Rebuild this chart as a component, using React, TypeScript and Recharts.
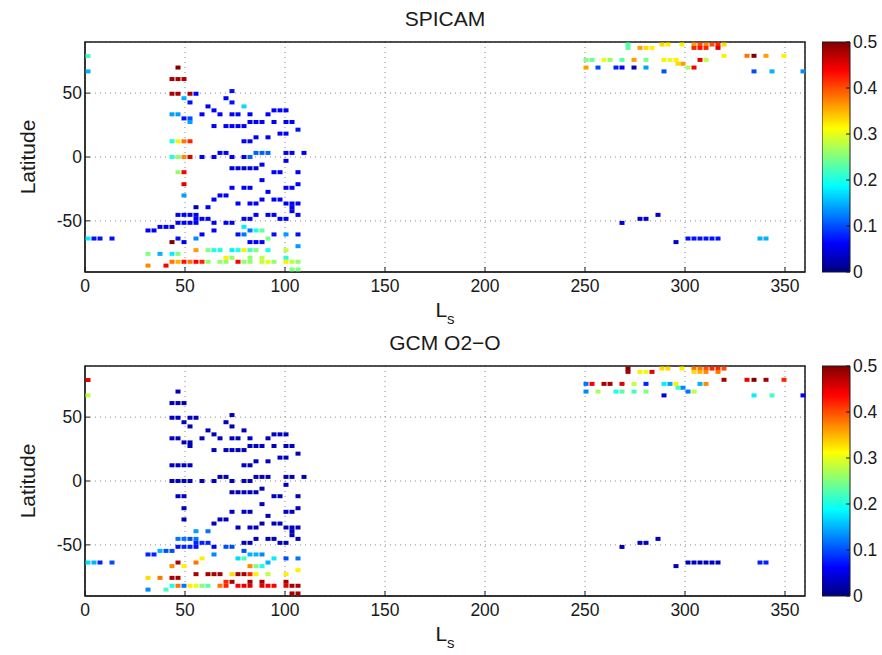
import React from "react";
import { ScatterChart, Scatter, XAxis, YAxis, CartesianGrid, ReferenceArea, BarChart, Bar } from "recharts";

// one entry per latitude row of observations; the same cells are shown in both panels
const rowLat = [
  79, 67, 70, 61, 51.6, 49.5, 46, 42.7, 39.6, 36.5, 33.4, 30.2, 27.4, 24.2, 21.4, 18.3, 15.4, 12.3, 3.2, 0,
  -3, -6, -8.8, -11.9, -18.1, -21.3, -24.1, -27.3, -30.1, -33.3, -36.4, -39.3, -42.4, -45.3, -48.4, -51.5,
  -54.7, -57.5, -60.6, -63.8, -66.6, -69.8, -72.9, -75.8, -78.9, -82, -85, -88,
  88, 85.4, 79.2, 76, 73, 70, 67, -45.3, -48.4, -51.6,
];

const rowLs = [
  [1.5], [1.5], [46.5], [43.5, 46.5, 49.5], [73.5], [43.5, 46.5, 52.5, 55.5], [49.5, 70.5], [52.5, 73.5],
  [61.5, 79.5], [64.5, 94.5, 97.5, 100.5], [43.5, 46.5, 58.5, 67.5, 73.5, 76.5, 82.5, 91.5], [49.5, 52.5],
  [52.5, 82.5, 85.5, 88.5, 94.5, 100.5, 103.5], [64.5, 70.5, 73.5, 76.5, 79.5], [106.5], [97.5, 100.5],
  [85.5, 91.5], [43.5, 46.5, 49.5, 52.5, 79.5, 82.5], [67.5, 70.5, 85.5, 88.5, 91.5, 100.5, 103.5, 109.5],
  [43.5, 46.5, 49.5, 52.5, 58.5, 64.5, 73.5, 79.5, 82.5],
  [100.5], [88.5], [73.5, 76.5, 79.5, 82.5, 85.5], [46.5, 49.5, 94.5, 97.5, 106.5], [88.5], [49.5, 106.5],
  [73.5, 79.5, 82.5, 100.5, 103.5], [91.5], [49.5, 67.5, 70.5], [64.5, 88.5, 94.5, 97.5],
  [76.5, 82.5, 85.5, 100.5, 103.5, 106.5], [55.5, 61.5, 103.5], [103.5],
  [46.5, 49.5, 52.5, 55.5, 85.5, 91.5, 94.5, 106.5], [55.5, 58.5, 61.5, 79.5, 82.5, 97.5, 100.5],
  [46.5, 49.5, 52.5, 55.5, 64.5, 70.5, 73.5],
  [37.5, 40.5, 43.5, 79.5], [31.5, 34.5, 64.5, 82.5, 85.5, 88.5], [58.5, 76.5, 79.5, 94.5, 100.5, 106.5],
  [1.5, 4.5, 7.5, 13.5, 46.5, 55.5, 91.5, 301.5, 304.5, 307.5, 310.5, 313.5, 316.5, 337.5, 340.5],
  [43.5, 49.5, 82.5, 85.5, 88.5, 295.5], [106.5],
  [55.5, 61.5, 64.5, 67.5, 73.5, 76.5, 79.5, 82.5, 85.5, 91.5, 100.5], [31.5, 37.5, 43.5, 46.5],
  [70.5, 73.5, 82.5, 88.5, 100.5],
  [43.5, 46.5, 49.5, 52.5, 55.5, 58.5, 61.5, 67.5, 70.5, 76.5, 79.5, 82.5, 88.5, 91.5, 94.5, 100.5, 103.5, 106.5],
  [31.5, 40.5], [103.5, 106.5],
  [271.5, 288.5, 291.5, 298.5, 304.5, 307.5, 310.5, 313.5, 316.5, 319.5],
  [271.5, 277.5, 280.5, 283.5, 304.5, 307.5, 310.5, 316.5],
  [319.5, 331, 334.5, 340.5, 349.5],
  [250.5, 253.5, 259.5, 262.5, 268.5, 274.5, 280.5, 289.5, 292.5, 295.5, 307.5, 310.5],
  [296.5, 299], [250.5, 256.5, 265.5, 268.5, 274.5, 280.5, 301.5, 304.5], [289.5, 334.5, 343.5, 359],
  [286.5], [277.5, 280.5], [268.5],
];

const spicamVals = [
  [0.22], [0.15], [0.5], [0.48, 0.48, 0.48], [0.07], [0.48, 0.48, 0.48, 0.06], [0.15, 0.06], [0.07, 0.07],
  [0.06, 0.17], [0.06, 0.06, 0.06, 0.06], [0.14, 0.14, 0.06, 0.06, 0.06, 0.06, 0.06, 0.06], [0.07, 0.1],
  [0.14, 0.06, 0.06, 0.06, 0.06, 0.06, 0.06], [0.06, 0.06, 0.06, 0.06, 0.06], [0.07], [0.06, 0.06],
  [0.06, 0.06], [0.2, 0.32, 0.38, 0.42, 0.06, 0.06], [0.06, 0.06, 0.11, 0.11, 0.11, 0.06, 0.06, 0.06],
  [0.2, 0.26, 0.37, 0.45, 0.06, 0.06, 0.06, 0.06, 0.11],
  [0.06], [0.06], [0.04, 0.04, 0.04, 0.04, 0.04], [0.26, 0.44, 0.06, 0.06, 0.06], [0.06], [0.45, 0.06],
  [0.06, 0.06, 0.06, 0.06, 0.06], [0.06], [0.14, 0.06, 0.06], [0.06, 0.06, 0.06, 0.06],
  [0.06, 0.06, 0.06, 0.06, 0.06, 0.06], [0.03, 0.06, 0.05], [0.05],
  [0.06, 0.06, 0.06, 0.06, 0.06, 0.06, 0.06, 0.06], [0.06, 0.06, 0.06, 0.06, 0.06, 0.06, 0.06],
  [0.06, 0.06, 0.06, 0.06, 0.06, 0.06, 0.06],
  [0.06, 0.06, 0.06, 0.18], [0.06, 0.06, 0.06, 0.12, 0.2, 0.24], [0.06, 0.07, 0.12, 0.07, 0.14, 0.07],
  [0.18, 0.07, 0.07, 0.07, 0.07, 0.13, 0.25, 0.07, 0.07, 0.07, 0.07, 0.07, 0.07, 0.15, 0.15],
  [0.5, 0.06, 0.06, 0.06, 0.06, 0.04], [0.14],
  [0.36, 0.25, 0.2, 0.2, 0.18, 0.2, 0.32, 0.22, 0.25, 0.2, 0.28], [0.25, 0.15, 0.18, 0.25],
  [0.32, 0.26, 0.26, 0.28, 0.2],
  [0.38, 0.35, 0.43, 0.38, 0.44, 0.42, 0.26, 0.26, 0.26, 0.44, 0.26, 0.26, 0.28, 0.3, 0.26, 0.32, 0.28, 0.26],
  [0.37, 0.44], [0.25, 0.25],
  [0.23, 0.33, 0.32, 0.32, 0.36, 0.4, 0.37, 0.4, 0.42, 0.33],
  [0.23, 0.36, 0.33, 0.32, 0.42, 0.43, 0.42, 0.45],
  [0.32, 0.38, 0.5, 0.36, 0.32],
  [0.25, 0.24, 0.3, 0.26, 0.23, 0.36, 0.25, 0.32, 0.3, 0.32, 0.45, 0.28],
  [0.33, 0.36], [0.36, 0.1, 0.08, 0.06, 0.03, 0.14, 0.27, 0.44], [0.1, 0.1, 0.15, 0.13],
  [0.04], [0.04, 0.04], [0.05],
];

const gcmVals = [
  [0.45], [0.28], [0.03], [0.03, 0.03, 0.03], [0.03], [0.03, 0.03, 0.03, 0.03], [0.03, 0.03], [0.03, 0.03],
  [0.03, 0.03], [0.03, 0.03, 0.03, 0.03], [0.03, 0.03, 0.03, 0.03, 0.03, 0.03, 0.03, 0.03], [0.03, 0.03],
  [0.03, 0.03, 0.03, 0.03, 0.03, 0.03, 0.03], [0.03, 0.03, 0.03, 0.03, 0.03], [0.03], [0.03, 0.03],
  [0.03, 0.03], [0.03, 0.03, 0.03, 0.03, 0.03, 0.03], [0.03, 0.03, 0.03, 0.03, 0.03, 0.03, 0.03, 0.03],
  [0.03, 0.03, 0.03, 0.03, 0.03, 0.03, 0.03, 0.03, 0.03],
  [0.03], [0.03], [0.03, 0.03, 0.03, 0.03, 0.03], [0.03, 0.03, 0.03, 0.03, 0.03], [0.03], [0.03, 0.03],
  [0.03, 0.03, 0.03, 0.03, 0.03], [0.03], [0.03, 0.03, 0.03], [0.03, 0.03, 0.03, 0.03],
  [0.03, 0.03, 0.03, 0.03, 0.03, 0.03], [0.14, 0.12, 0.03], [0.03],
  [0.12, 0.12, 0.1, 0.12, 0.03, 0.03, 0.03, 0.03], [0.08, 0.08, 0.08, 0.03, 0.03, 0.03, 0.03],
  [0.07, 0.08, 0.08, 0.07, 0.06, 0.1, 0.1],
  [0.15, 0.1, 0.1, 0.1], [0.08, 0.08, 0.13, 0.15, 0.15, 0.13], [0.32, 0.17, 0.22, 0.18, 0.1, 0.12],
  [0.17, 0.15, 0.08, 0.1, 0.48, 0.38, 0.15, 0.03, 0.03, 0.03, 0.03, 0.03, 0.03, 0.08, 0.08],
  [0.37, 0.32, 0.37, 0.25, 0.2, 0.03], [0.32],
  [0.48, 0.48, 0.48, 0.48, 0.33, 0.48, 0.48, 0.42, 0.32, 0.28, 0.32], [0.33, 0.38, 0.48, 0.48],
  [0.42, 0.48, 0.48, 0.48, 0.48],
  [0.2, 0.38, 0.12, 0.32, 0.3, 0.25, 0.23, 0.38, 0.42, 0.44, 0.45, 0.45, 0.45, 0.44, 0.44, 0.45, 0.48, 0.48],
  [0.13, 0.22], [0.48, 0.48],
  [0.5, 0.33, 0.33, 0.32, 0.38, 0.38, 0.4, 0.42, 0.42, 0.4],
  [0.48, 0.32, 0.3, 0.45, 0.33, 0.35, 0.37, 0.38],
  [0.48, 0.45, 0.5, 0.48, 0.42],
  [0.12, 0.44, 0.48, 0.48, 0.45, 0.28, 0.08, 0.18, 0.14, 0.32, 0.15, 0.37],
  [0.22, 0.13], [0.13, 0.27, 0.2, 0.23, 0.22, 0.25, 0.12, 0.28], [0.04, 0.18, 0.22, 0.06],
  [0.03], [0.03, 0.03], [0.03],
];

const lsTicks = [0, 50, 100, 150, 200, 250, 300, 350];
const latTicks = [-50, 0, 50];
const cbarTicks = [0, 0.1, 0.2, 0.3, 0.4, 0.5];

const FONT = '"Liberation Sans", Arial, Helvetica, sans-serif';
const INK = "#1a1a1a";

// matlab-style jet colormap over 0..0.5
function jet(v: number) {
  const t = Math.max(0, Math.min(1, v / 0.5));
  const c = (x: number) => Math.round(255 * Math.max(0, Math.min(1, 1.5 - Math.abs(x))));
  return `rgb(${c(4 * t - 3)},${c(4 * t - 2)},${c(4 * t - 1)})`;
}

const jetStops = [0, 0.125, 0.25, 0.375, 0.5, 0.625, 0.75, 0.875, 1];

function toPoints(vals: number[][]) {
  const pts: { ls: number; lat: number; v: number }[] = [];
  rowLat.forEach((lat, i) => rowLs[i].forEach((ls, j) => pts.push({ ls, lat, v: vals[i][j] })));
  return pts;
}

const CellMark = (props: any) => {
  const { cx, cy, payload } = props;
  if (cx == null || cy == null) return null;
  return <rect x={cx - 2.5} y={cy - 2} width={5} height={4} fill={jet(payload.v)} />;
};

function Panel({ title, vals, top }: { title: string; vals: number[][]; top: number }) {
  const data = toPoints(vals);
  return (
    <div style={{ position: "absolute", left: 0, top }}>
      <ScatterChart width={882} height={327} margin={{ top: 41, right: 76, bottom: 25, left: 45 }}>
        <CartesianGrid stroke="#8a8a8a" strokeDasharray="1 4" />
        <XAxis
          type="number" dataKey="ls" domain={[0, 360]} ticks={lsTicks} height={30}
          tickSize={-5} tickMargin={13} stroke={INK}
          tick={{ fill: INK, fontSize: 17.5 }}
          label={{
            content: (p: any) => {
              const vb = p.viewBox || { x: 85, y: 272, width: 720 };
              return (
                <text x={vb.x + vb.width / 2} y={vb.y + 45} textAnchor="middle" fontSize={21} fill={INK}>
                  L<tspan fontSize={15} dy={7}>s</tspan>
                </text>
              );
            },
          }}
        />
        <XAxis
          xAxisId="top" orientation="top" type="number" domain={[0, 360]} ticks={lsTicks} height={1}
          tickSize={-5} tick={false} axisLine={false} stroke={INK}
          label={{
            content: (p: any) => {
              const vb = p.viewBox || { x: 85, y: 41, width: 720 };
              return (
                <text x={vb.x + vb.width / 2} y={vb.y - 15} textAnchor="middle" fontSize={21} fill={INK}>
                  {title}
                </text>
              );
            },
          }}
        />
        <YAxis
          type="number" dataKey="lat" domain={[-90, 90]} ticks={latTicks} width={40}
          tickSize={-5} tickMargin={8} stroke={INK}
          tick={{ fill: INK, fontSize: 17.5 }}
          label={{
            content: (p: any) => {
              const vb = p.viewBox || { x: 45, y: 42, width: 40, height: 230 };
              const x = vb.x - 10;
              const y = vb.y + vb.height / 2;
              return (
                <text x={x} y={y} transform={`rotate(-90 ${x} ${y})`} textAnchor="middle" fontSize={21} fill={INK}>
                  Latitude
                </text>
              );
            },
          }}
        />
        <YAxis
          yAxisId="right" orientation="right" type="number" domain={[-90, 90]} ticks={latTicks} width={1}
          tickSize={-5} tick={false} axisLine={false} stroke={INK}
        />
        <ReferenceArea
          x1={0} x2={360} y1={-90} y2={90} fill="none" fillOpacity={0}
          stroke={INK} strokeOpacity={1} strokeWidth={1.5} ifOverflow="visible"
        />
        <Scatter data={data} shape={CellMark} isAnimationActive={false} />
      </ScatterChart>
    </div>
  );
}

function ColorBar({ top, id }: { top: number; id: string }) {
  return (
    <div style={{ position: "absolute", left: 822, top }}>
      <BarChart
        width={60} height={327} data={[{ name: "c", v: 0.5 }]}
        margin={{ top: 42, right: 0, bottom: 55, left: 0 }} barCategoryGap={0}
      >
        <defs>
          <linearGradient id={id} x1="0" y1="1" x2="0" y2="0">
            {jetStops.map((s) => (
              <stop key={s} offset={s} stopColor={jet(s * 0.5)} />
            ))}
          </linearGradient>
        </defs>
        <XAxis dataKey="name" hide />
        <YAxis
          orientation="right" type="number" domain={[0, 0.5]} ticks={cbarTicks} width={32}
          tickSize={-4} tickMargin={7} axisLine={false} stroke={INK}
          tick={{ fill: INK, fontSize: 17.5 }}
        />
        <Bar dataKey="v" fill={`url(#${id})`} stroke={INK} strokeWidth={1} isAnimationActive={false} />
      </BarChart>
    </div>
  );
}

export default function App() {
  return (
    <div style={{ position: "absolute", left: 0, top: 0, width: 882, height: 655, background: "#fff", fontFamily: FONT }}>
      <Panel title="SPICAM" vals={spicamVals} top={0} />
      <ColorBar top={0} id="jetTop" />
      <Panel title="GCM O2−O" vals={gcmVals} top={324} />
      <ColorBar top={324} id="jetBottom" />
    </div>
  );
}
